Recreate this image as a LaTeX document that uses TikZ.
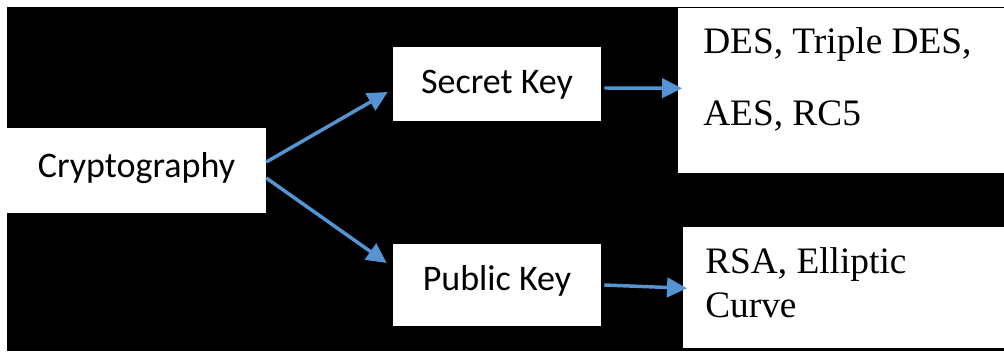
\documentclass[tikz,border=0pt]{standalone}
\usepackage{fontspec}
\newfontfamily\calibrifont{Carlito}
\newfontfamily\timesfont{Liberation Serif}
\usetikzlibrary{arrows.meta,positioning}
\definecolor{linkblue}{RGB}{84,148,210}

\begin{document}
\begin{tikzpicture}[x=0.75pt, y=-0.75pt,
	box/.style={fill=white, inner sep=0pt, anchor=center, font={\calibrifont\fontsize{27}{32}\selectfont}, text height=20.25pt, text depth=6.75pt},
	listbox/.style={fill=white, inner sep=0pt, anchor=north west},
	listtext/.style={anchor=north west, inner sep=0pt, align=left},
	link/.style={draw=linkblue, line width=2.6pt, -{Triangle[length=15pt,width=14.5pt]}}]
	\useasboundingbox (0,0) rectangle (1004,351);
	\fill[white] (0,0) rectangle (1004,351);
	\fill[black] (7,7) rectangle (1004,351);

	\node[box, minimum width=194.25pt, minimum height=63.75pt, text height=18.4pt, text depth=8.6pt] (crypto) at (136.5,170.5) {Cryptography};
	\node[box, minimum width=156pt, minimum height=55.5pt] (secret) at (497,84) {Secret Key};
	\node[box, minimum width=156pt, minimum height=61.5pt, text height=17.25pt, text depth=9.75pt] (public) at (497,285) {Public Key};

	\node[listbox, minimum width=244.5pt, minimum height=123.75pt] (des) at (678,8) {};
	\node[listbox, minimum width=240.75pt, minimum height=90.75pt] (rsa) at (683,227) {};
	\node[listtext, font={\timesfont\fontsize{28}{54}\selectfont}] (destext) at (703,27.5) {DES, Triple DES,\\AES, RC5};
	\node[listtext, font={\timesfont\fontsize{28}{33}\selectfont}] (rsatext) at (705,247) {RSA, Elliptic\\Curve};

	\draw[link] ([shift={(0,-8.5)}]crypto.east) -- ([shift={(-5,8)}]secret.west);
	\draw[link] ([shift={(0,7.5)}]crypto.east) -- ([shift={(-6,-22)}]public.west);
	\draw[link] ([shift={(3,4)}]secret.east) -- ([shift={(4,-2.5)}]des.west);
	\draw[link] ([shift={(3,0)}]public.east) -- ([shift={(4,0.5)}]rsa.west);
\end{tikzpicture}
\end{document}
